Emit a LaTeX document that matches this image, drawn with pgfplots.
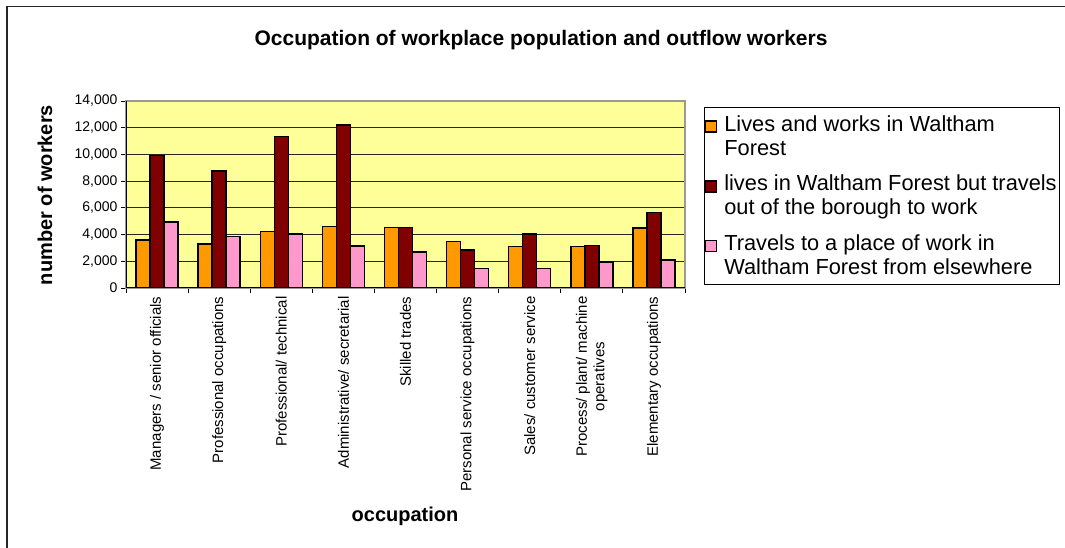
\documentclass[border=0pt]{standalone}
\usepackage{pgfplots}
\pgfplotsset{compat=1.18}
\usepackage{pgfplotstable}
\usepackage{fontspec}
\setmainfont{Liberation Sans}

\definecolor{plotbg}{HTML}{FFFF99}
\definecolor{liveswork}{HTML}{FF9900}
\definecolor{livesout}{HTML}{800000}
\definecolor{travelsin}{HTML}{FF99CC}

% legend square sits beside the first of two text lines
\pgfplotsset{boxlegend/.style={legend image code/.code={%
  \draw[##1] (0pt,4pt) rectangle (11pt,15pt);
  \path (0pt,4pt) (16pt,4pt);}}}

% occupation index, lives & works, lives here works out, travels in
\pgfplotstableread{
idx lw out in
0 3600 9900 4950
1 3300 8750 3850
2 4250 11350 4050
3 4600 12200 3150
4 4550 4550 2700
5 3500 2850 1450
6 3100 4050 1450
7 3100 3200 1950
8 4500 5650 2100
}\occdata

\begin{document}
\begin{tikzpicture}
\useasboundingbox (0,0) rectangle (1065pt,548pt);
% chart frame
\draw[line width=1.3pt, black!85] (7pt,0pt) -- (7pt,541.5pt) -- (1065pt,541.5pt);

\node[font=\bfseries\fontsize{21}{24}\selectfont] at (541pt,508pt)
  {Occupation of workplace population and outflow workers};
\node[font=\bfseries\fontsize{20}{24}\selectfont, rotate=90] at (45pt,353pt)
  {number of workers};
\node[font=\bfseries\fontsize{20}{24}\selectfont] at (405pt,32pt) {occupation};

\begin{axis}[
  at={(126pt,260pt)}, anchor=south west,
  scale only axis, width=559pt, height=187pt,
  ybar=0pt, bar width=14pt,
  xmin=-0.5, xmax=8.5,
  ymin=0, ymax=14000,
  ytick={0,2000,...,14000},
  scaled y ticks=false,
  yticklabel style={/pgf/number format/.cd, fixed, 1000 sep={,}, assume math mode=true},
  ticklabel style={font=\fontsize{14}{16}\selectfont},
  xtick={-0.5,0.5,...,8.5},
  xticklabels={},
  extra x ticks={0,...,8},
  extra x tick labels={
    Managers  / senior officials,
    Professional occupations,
    Professional/ technical,
    Administrative/ secretarial,
    Skilled trades,
    Personal service occupations,
    Sales/ customer service,
    {Process/ plant/ machine\\operatives},
    Elementary occupations},
  extra x tick style={major tick length=0pt, grid=none,
    ticklabel style={yshift=-5pt, rotate=90, anchor=east, align=center,
      font=\fontsize{15}{17.5}\selectfont}},
  tick align=outside, tick pos=left,
  major tick length=5pt,
  tick style={black, line width=0.8pt},
  ymajorgrids, major grid style={black!85, line width=0.8pt},
  axis line style={draw=gray!80, line width=1.2pt},
  axis background/.style={fill=plotbg},
  legend style={at={(1.034,0.968)}, anchor=north west,
    draw=black, line width=0.8pt,
    font=\fontsize{21.8}{24}\selectfont,
    cells={align=left},
    row sep=14.5pt, inner xsep=0.5pt, inner ysep=6pt},
  legend cell align=left,
]
\addplot[fill=liveswork, draw=black, line width=1.4pt, boxlegend]
  table[x=idx, y=lw] {\occdata};
\addlegendentry{Lives and works in Waltham\\Forest}
\addplot[fill=livesout, draw=black, line width=1.4pt, boxlegend]
  table[x=idx, y=out] {\occdata};
\addlegendentry{lives in Waltham Forest but travels\\out of the borough to work}
\addplot[fill=travelsin, draw=black, line width=1.4pt, boxlegend]
  table[x=idx, y=in] {\occdata};
\addlegendentry{Travels to a place of work in\\Waltham Forest from elsewhere}
\draw[black, line width=1.2pt] (rel axis cs:0,1) -- (rel axis cs:0,0) -- (rel axis cs:1,0);
\end{axis}
\end{tikzpicture}
\end{document}
